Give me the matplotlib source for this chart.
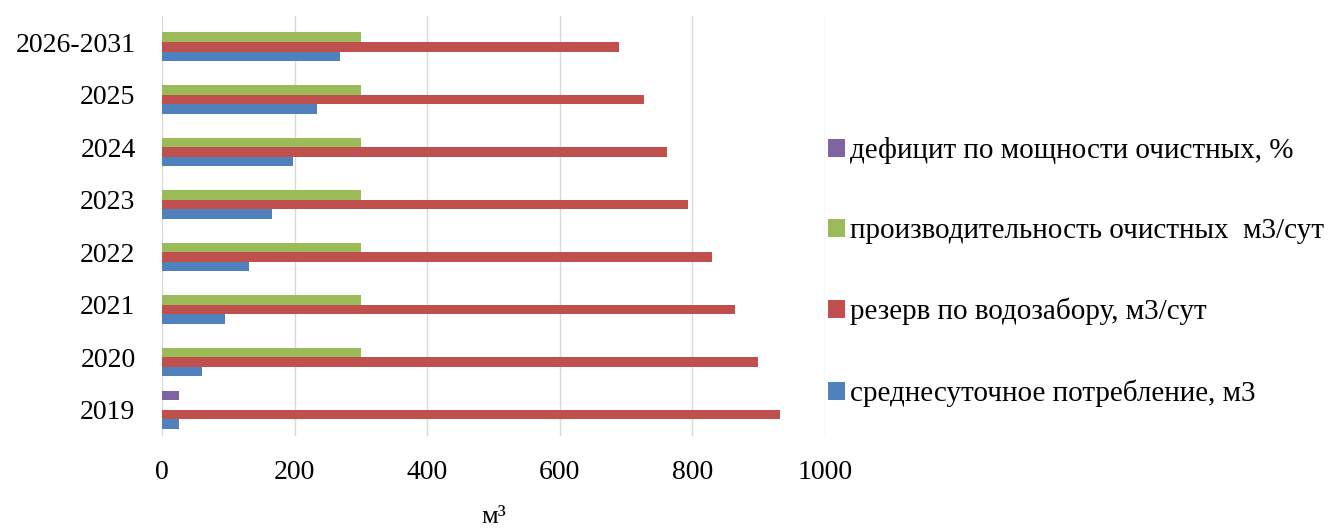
import matplotlib.pyplot as plt
import numpy as np

plt.rcParams["font.family"] = ["Liberation Serif", "DejaVu Serif"]

years = ["2019", "2020", "2021", "2022", "2023", "2024", "2025", "2026-2031"]
consumption = [26, 61, 95, 131, 166, 198, 234, 269]
reserve = [932, 899, 864, 829, 794, 762, 727, 690]
capacity = [0, 300, 300, 300, 300, 300, 300, 300]
deficit = [26, 0, 0, 0, 0, 0, 0, 0]

series = [
    ("среднесуточное потребление, м3", consumption, "#4F81BD"),
    ("резерв по водозабору, м3/сут", reserve, "#C0504D"),
    ("производительность очистных  м3/сут", capacity, "#9BBB59"),
    ("дефицит по мощности очистных, %", deficit, "#8064A2"),
]

fig = plt.figure(figsize=(13.33, 5.28), dpi=100)
ax = fig.add_axes([162 / 1333, 1 - 436 / 528, (825 - 162) / 1333, (436 - 15.75) / 528])

y = np.arange(len(years))
h = 1 / 5.5
handles = []
for i, (label, vals, color) in enumerate(series):
    b = ax.barh(y + (i - 1.5) * h, vals, height=h, color=color, label=label)
    handles.append(b)

ax.set_xlim(0, 1000)
ax.set_ylim(-0.5, len(years) - 0.5)
ax.set_xticks(range(0, 1001, 200))
ax.set_yticks(y)
ax.set_yticklabels(years)
ax.tick_params(axis="both", length=0, labelsize=20)
ax.tick_params(axis="x", pad=17)
ax.tick_params(axis="y", pad=19)
ax.grid(axis="x", color="#d9d9d9", linewidth=1)
ax.set_axisbelow(True)
for s in ax.spines.values():
    s.set_visible(False)

# axis title sits at the very bottom of the image
fig.text(494 / 1333, 0, "м³", fontsize=19, ha="center", va="bottom")

fig.legend(handles[::-1], [s[0] for s in series][::-1],
           loc="center left", bbox_to_anchor=(828 / 1333, 1 - 272 / 528),
           frameon=False, fontsize=21, labelspacing=1.85,
           handlelength=0.58, handleheight=0.58, handletextpad=0.17,
           borderpad=0, borderaxespad=0)

fig.savefig("out.png", dpi=100)
